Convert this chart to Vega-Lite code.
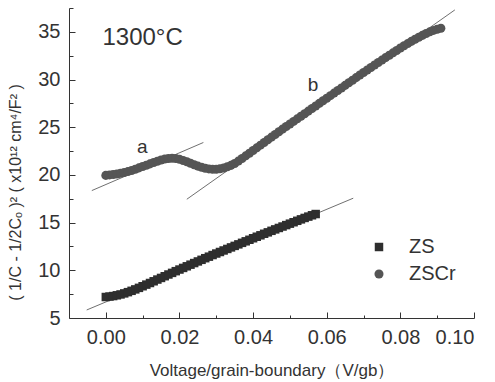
{
  "$schema": "https://vega.github.io/schema/vega-lite/v6.json",
  "autosize": "none",
  "width": 405,
  "height": 310,
  "padding": {"left": 69, "top": 8, "right": 21, "bottom": 64},
  "background": "white",
  "config": {
    "view": {"stroke": null},
    "axis": {"grid": false, "domainColor": "#333", "tickColor": "#333", "labelColor": "#333", "titleColor": "#333", "labelFont": "Liberation Sans", "titleFont": "Liberation Sans", "labelFontSize": 20, "titleFontWeight": "normal", "titleFontSize": 16}
  },
  "datasets": {
    "pts": [
      {"s":"ZS","v":0.000,"c":7.2},{"s":"ZS","v":0.001,"c":7.25},{"s":"ZS","v":0.002,"c":7.3},{"s":"ZS","v":0.003,"c":7.38},{"s":"ZS","v":0.004,"c":7.47},{"s":"ZS","v":0.005,"c":7.58},{"s":"ZS","v":0.006,"c":7.71},{"s":"ZS","v":0.007,"c":7.85},{"s":"ZS","v":0.008,"c":8.0},{"s":"ZS","v":0.009,"c":8.16},{"s":"ZS","v":0.010,"c":8.33},{"s":"ZS","v":0.011,"c":8.5},{"s":"ZS","v":0.012,"c":8.67},{"s":"ZS","v":0.013,"c":8.85},{"s":"ZS","v":0.014,"c":9.03},{"s":"ZS","v":0.015,"c":9.2},{"s":"ZS","v":0.016,"c":9.38},{"s":"ZS","v":0.017,"c":9.56},{"s":"ZS","v":0.018,"c":9.73},{"s":"ZS","v":0.019,"c":9.91},{"s":"ZS","v":0.020,"c":10.08},{"s":"ZS","v":0.021,"c":10.25},{"s":"ZS","v":0.022,"c":10.42},{"s":"ZS","v":0.023,"c":10.59},{"s":"ZS","v":0.024,"c":10.76},{"s":"ZS","v":0.025,"c":10.93},{"s":"ZS","v":0.026,"c":11.1},{"s":"ZS","v":0.027,"c":11.27},{"s":"ZS","v":0.028,"c":11.43},{"s":"ZS","v":0.029,"c":11.6},{"s":"ZS","v":0.030,"c":11.76},{"s":"ZS","v":0.031,"c":11.92},{"s":"ZS","v":0.032,"c":12.08},{"s":"ZS","v":0.033,"c":12.24},{"s":"ZS","v":0.034,"c":12.4},{"s":"ZS","v":0.035,"c":12.56},{"s":"ZS","v":0.036,"c":12.72},{"s":"ZS","v":0.037,"c":12.88},{"s":"ZS","v":0.038,"c":13.04},{"s":"ZS","v":0.039,"c":13.2},{"s":"ZS","v":0.040,"c":13.36},{"s":"ZS","v":0.041,"c":13.52},{"s":"ZS","v":0.042,"c":13.67},{"s":"ZS","v":0.043,"c":13.83},{"s":"ZS","v":0.044,"c":13.98},{"s":"ZS","v":0.045,"c":14.14},{"s":"ZS","v":0.046,"c":14.29},{"s":"ZS","v":0.047,"c":14.44},{"s":"ZS","v":0.048,"c":14.59},{"s":"ZS","v":0.049,"c":14.74},{"s":"ZS","v":0.050,"c":14.89},{"s":"ZS","v":0.051,"c":15.04},{"s":"ZS","v":0.052,"c":15.19},{"s":"ZS","v":0.053,"c":15.34},{"s":"ZS","v":0.054,"c":15.49},{"s":"ZS","v":0.055,"c":15.63},{"s":"ZS","v":0.056,"c":15.77},{"s":"ZS","v":0.057,"c":15.9},
      {"s":"ZSCr","v":0.000,"c":19.95},{"s":"ZSCr","v":0.001,"c":20.0},{"s":"ZSCr","v":0.002,"c":20.05},{"s":"ZSCr","v":0.003,"c":20.1},{"s":"ZSCr","v":0.004,"c":20.17},{"s":"ZSCr","v":0.005,"c":20.25},{"s":"ZSCr","v":0.006,"c":20.35},{"s":"ZSCr","v":0.007,"c":20.47},{"s":"ZSCr","v":0.008,"c":20.6},{"s":"ZSCr","v":0.009,"c":20.74},{"s":"ZSCr","v":0.010,"c":20.88},{"s":"ZSCr","v":0.011,"c":21.02},{"s":"ZSCr","v":0.012,"c":21.16},{"s":"ZSCr","v":0.013,"c":21.3},{"s":"ZSCr","v":0.014,"c":21.44},{"s":"ZSCr","v":0.015,"c":21.56},{"s":"ZSCr","v":0.016,"c":21.66},{"s":"ZSCr","v":0.017,"c":21.72},{"s":"ZSCr","v":0.018,"c":21.74},{"s":"ZSCr","v":0.019,"c":21.72},{"s":"ZSCr","v":0.020,"c":21.64},{"s":"ZSCr","v":0.021,"c":21.52},{"s":"ZSCr","v":0.022,"c":21.38},{"s":"ZSCr","v":0.023,"c":21.22},{"s":"ZSCr","v":0.024,"c":21.06},{"s":"ZSCr","v":0.025,"c":20.92},{"s":"ZSCr","v":0.026,"c":20.8},{"s":"ZSCr","v":0.027,"c":20.7},{"s":"ZSCr","v":0.028,"c":20.63},{"s":"ZSCr","v":0.029,"c":20.6},{"s":"ZSCr","v":0.030,"c":20.6},{"s":"ZSCr","v":0.031,"c":20.64},{"s":"ZSCr","v":0.032,"c":20.72},{"s":"ZSCr","v":0.033,"c":20.85},{"s":"ZSCr","v":0.034,"c":21.0},{"s":"ZSCr","v":0.035,"c":21.2},{"s":"ZSCr","v":0.036,"c":21.45},{"s":"ZSCr","v":0.037,"c":21.72},{"s":"ZSCr","v":0.038,"c":22.0},{"s":"ZSCr","v":0.039,"c":22.28},{"s":"ZSCr","v":0.040,"c":22.56},{"s":"ZSCr","v":0.041,"c":22.84},{"s":"ZSCr","v":0.042,"c":23.12},{"s":"ZSCr","v":0.043,"c":23.4},{"s":"ZSCr","v":0.044,"c":23.68},{"s":"ZSCr","v":0.045,"c":23.96},{"s":"ZSCr","v":0.046,"c":24.24},{"s":"ZSCr","v":0.047,"c":24.52},{"s":"ZSCr","v":0.048,"c":24.8},{"s":"ZSCr","v":0.049,"c":25.07},{"s":"ZSCr","v":0.050,"c":25.34},{"s":"ZSCr","v":0.051,"c":25.61},{"s":"ZSCr","v":0.052,"c":25.88},{"s":"ZSCr","v":0.053,"c":26.15},{"s":"ZSCr","v":0.054,"c":26.42},{"s":"ZSCr","v":0.055,"c":26.69},{"s":"ZSCr","v":0.056,"c":26.96},{"s":"ZSCr","v":0.057,"c":27.23},{"s":"ZSCr","v":0.058,"c":27.5},{"s":"ZSCr","v":0.059,"c":27.77},{"s":"ZSCr","v":0.060,"c":28.04},{"s":"ZSCr","v":0.061,"c":28.31},{"s":"ZSCr","v":0.062,"c":28.58},{"s":"ZSCr","v":0.063,"c":28.85},{"s":"ZSCr","v":0.064,"c":29.12},{"s":"ZSCr","v":0.065,"c":29.39},{"s":"ZSCr","v":0.066,"c":29.66},{"s":"ZSCr","v":0.067,"c":29.93},{"s":"ZSCr","v":0.068,"c":30.2},{"s":"ZSCr","v":0.069,"c":30.47},{"s":"ZSCr","v":0.070,"c":30.74},{"s":"ZSCr","v":0.071,"c":31.0},{"s":"ZSCr","v":0.072,"c":31.26},{"s":"ZSCr","v":0.073,"c":31.52},{"s":"ZSCr","v":0.074,"c":31.78},{"s":"ZSCr","v":0.075,"c":32.04},{"s":"ZSCr","v":0.076,"c":32.3},{"s":"ZSCr","v":0.077,"c":32.55},{"s":"ZSCr","v":0.078,"c":32.8},{"s":"ZSCr","v":0.079,"c":33.05},{"s":"ZSCr","v":0.080,"c":33.3},{"s":"ZSCr","v":0.081,"c":33.54},{"s":"ZSCr","v":0.082,"c":33.77},{"s":"ZSCr","v":0.083,"c":34.0},{"s":"ZSCr","v":0.084,"c":34.22},{"s":"ZSCr","v":0.085,"c":34.43},{"s":"ZSCr","v":0.086,"c":34.63},{"s":"ZSCr","v":0.087,"c":34.82},{"s":"ZSCr","v":0.088,"c":35.0},{"s":"ZSCr","v":0.089,"c":35.15},{"s":"ZSCr","v":0.090,"c":35.28},{"s":"ZSCr","v":0.091,"c":35.38}
    ],
    "lines": [
      {"x1": -0.0052, "y1": 5.84, "x2": 0.0672, "y2": 17.56},
      {"x1": -0.0038, "y1": 18.36, "x2": 0.0265, "y2": 23.4},
      {"x1": 0.022, "y1": 17.45, "x2": 0.0948, "y2": 37.3}
    ],
    "notes": [
      {"t": "1300°C", "v": 0.01, "c": 34.33, "size": 24},
      {"t": "a", "v": 0.0099, "c": 22.9, "size": 19},
      {"t": "b", "v": 0.0563, "c": 29.45, "size": 19}
    ]
  },
  "resolve": {"axis": {"x": "independent", "y": "independent"}},
  "layer": [
    {
      "data": {"name": "lines"},
      "mark": {"type": "rule", "color": "#707070", "strokeWidth": 1, "clip": false},
      "encoding": {
        "x": {"field": "x1", "type": "quantitative", "scale": {"domain": [-0.01, 0.1], "nice": false, "zero": false}, "axis": null},
        "y": {"field": "y1", "type": "quantitative", "scale": {"domain": [5, 37.5], "nice": false, "zero": false}, "axis": null},
        "x2": {"field": "x2"},
        "y2": {"field": "y2"}
      }
    },
    {
      "data": {"name": "pts"},
      "mark": {"type": "point", "filled": true, "opacity": 1},
      "encoding": {
        "x": {"field": "v", "type": "quantitative", "axis": {"orient": "bottom", "values": [0, 0.02, 0.04, 0.06, 0.08, 0.1], "format": ".2f", "tickSize": -6, "labelPadding": 15, "title": "Voltage/grain-boundary（V/gb）", "titleFontSize": 17, "titleBaseline": "alphabetic", "titleY": 57}},
        "y": {"field": "c", "type": "quantitative", "axis": {"orient": "left", "values": [5, 10, 15, 20, 25, 30, 35], "tickSize": -6, "labelPadding": 15, "title": "(  1/C - 1/2Cₒ  )²  (  x10¹²  cm⁴/F²  )", "titleX": -54, "titleY": 184, "titleAngle": -90, "titleBaseline": "middle"}},
        "color": {"field": "s", "type": "nominal", "scale": {"domain": ["ZS", "ZSCr"], "range": ["#2e2e2e", "#555555"]}, "legend": {"orient": "none", "legendX": 300, "legendY": 229, "title": null, "labelFontSize": 20, "labelFont": "Liberation Sans", "labelColor": "#333", "symbolSize": 70, "rowPadding": 7, "labelOffset": 20}},
        "shape": {"field": "s", "type": "nominal", "scale": {"domain": ["ZS", "ZSCr"], "range": ["square", "circle"]}},
        "size": {"field": "s", "type": "nominal", "scale": {"domain": ["ZS", "ZSCr"], "range": [72, 82]}, "legend": null}
      }
    },
    {
      "data": {"name": "notes"},
      "mark": {"type": "text", "baseline": "middle", "align": "center", "font": "Liberation Sans", "color": "#333"},
      "encoding": {
        "x": {"field": "v", "type": "quantitative", "axis": {"orient": "bottom", "values": [0.01, 0.03, 0.05, 0.07, 0.09], "tickSize": -3, "labels": false, "domain": false, "title": null}},
        "y": {"field": "c", "type": "quantitative", "axis": {"orient": "left", "values": [7.5, 12.5, 17.5, 22.5, 27.5, 32.5, 37.5], "tickSize": -4, "labels": false, "domain": false, "title": null}},
        "text": {"field": "t"},
        "size": {"field": "size", "type": "quantitative", "scale": null}
      }
    }
  ]
}
